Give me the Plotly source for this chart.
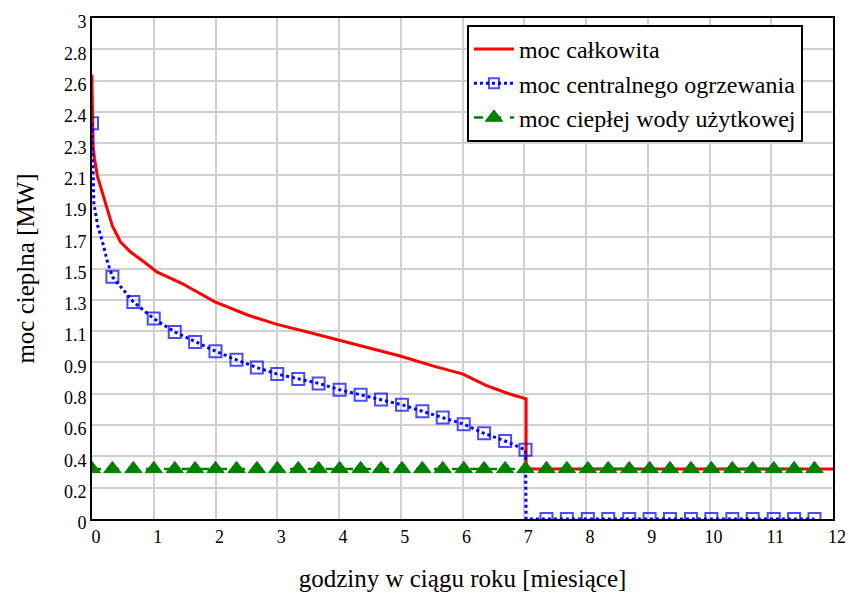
import plotly.graph_objects as go

# Total heat demand (duration curve), months of the year vs MW
total_x = [0.0, 0.0, 0.02, 0.04, 0.09, 0.17, 0.25, 0.33, 0.46, 0.62, 0.84, 1.05,
           1.46, 1.99, 2.53, 3.01, 3.49, 4.0, 4.37, 4.99, 5.52, 6.01, 6.38, 6.75,
           7.03, 7.03, 12.0]
total_y = [2.66, 2.60, 2.22, 2.16, 2.05, 1.95, 1.85, 1.755, 1.66, 1.60, 1.54, 1.48,
           1.41, 1.30, 1.22, 1.164, 1.12, 1.072, 1.036, 0.976, 0.917, 0.868, 0.80, 0.75,
           0.72, 0.30, 0.30]

# Space heating demand; heating_marker flags the sampled points shown with squares
heating_x = [0.0, 0.01, 0.02, 0.03, 0.09, 0.17, 0.25, 0.33, 0.67, 1.0, 1.34, 1.67,
             2.0, 2.34, 2.67, 3.0, 3.34, 3.67, 4.01, 4.35, 4.68, 5.02, 5.35, 5.68,
             6.02, 6.35, 6.69, 7.02, 7.03, 7.36, 7.69, 8.03, 8.36, 8.70, 9.03, 9.36,
             9.70, 10.03, 10.37, 10.70, 11.04, 11.37, 11.70]
heating_y = [2.37, 2.25, 2.05, 1.89, 1.76, 1.66, 1.54, 1.45, 1.30, 1.20, 1.12, 1.06,
             1.005, 0.953, 0.907, 0.868, 0.838, 0.812, 0.774, 0.744, 0.716, 0.684, 0.645, 0.608,
             0.568, 0.513, 0.467, 0.414, 0.0, 0.0, 0.0, 0.0, 0.0, 0.0, 0.0, 0.0,
             0.0, 0.0, 0.0, 0.0, 0.0, 0.0, 0.0]
heating_marker = [1, 0, 0, 0, 0, 0, 0, 1, 1, 1, 1, 1,
                  1, 1, 1, 1, 1, 1, 1, 1, 1, 1, 1, 1,
                  1, 1, 1, 1, 0, 1, 1, 1, 1, 1, 1, 1,
                  1, 1, 1, 1, 1, 1, 1]

# Domestic hot water demand
dhw_x = [0.0, 0.33, 0.67, 1.0, 1.34, 1.67, 2.0, 2.34, 2.67, 3.0, 3.34, 3.67,
         4.01, 4.35, 4.68, 5.02, 5.35, 5.68, 6.02, 6.35, 6.69, 7.02, 7.36, 7.69,
         8.03, 8.36, 8.70, 9.03, 9.36, 9.70, 10.03, 10.37, 10.70, 11.04, 11.37, 11.70]
dhw_y = [0.30, 0.30, 0.30, 0.30, 0.30, 0.30, 0.30, 0.30, 0.30, 0.30, 0.30, 0.30,
         0.30, 0.30, 0.30, 0.30, 0.30, 0.30, 0.30, 0.30, 0.30, 0.30, 0.30, 0.30,
         0.30, 0.30, 0.30, 0.30, 0.30, 0.30, 0.30, 0.30, 0.30, 0.30, 0.30, 0.30]

x_ticks = [0, 1, 2, 3, 4, 5, 6, 7, 8, 9, 10, 11, 12]
y_tick_text = ["0", "0.2", "0.4", "0.6", "0.8", "0.9", "1.1", "1.3", "1.5",
               "1.7", "1.9", "2.1", "2.3", "2.4", "2.6", "2.8", "3"]
y_tick_vals = [3 * i / 16 for i in range(len(y_tick_text))]

SERIF = "Times New Roman, Times, Liberation Serif, DejaVu Serif"

fig = go.Figure()
fig.add_trace(go.Scatter(
    x=total_x, y=total_y, mode="lines", name="moc całkowita",
    line=dict(color="#ff0000", width=3),
))
fig.add_trace(go.Scatter(
    x=heating_x, y=heating_y, mode="lines+markers", name="moc centralnego ogrzewania",
    line=dict(color="#0000ff", width=3, dash="dot"),
    marker=dict(symbol="square-open", color="#0000ff",
                size=[12 if m else 0 for m in heating_marker],
                line=dict(width=2, color="#0000ff")),
))
fig.add_trace(go.Scatter(
    x=dhw_x, y=dhw_y, mode="lines+markers", name="moc ciepłej wody użytkowej",
    line=dict(color="#008000", width=2.5, dash="dash"),
    marker=dict(symbol="triangle-up", color="#008000", size=15,
                line=dict(width=1, color="#008000")),
))

axis_common = dict(
    showgrid=True, gridcolor="#d0d0d0", gridwidth=1.5,
    showline=True, linecolor="black", linewidth=2, mirror=True,
    ticks="", zeroline=False,
    tickfont=dict(family=SERIF, size=18, color="black"),
)

fig.update_layout(
    width=858, height=600,
    margin=dict(l=92, r=18, t=13, b=80),
    paper_bgcolor="white", plot_bgcolor="white",
    font=dict(family=SERIF, color="black"),
    xaxis=dict(range=[0, 12], tickvals=x_ticks, ticklabelshift=4,
               title=dict(text="godziny w ciągu roku [miesiące]", standoff=24,
                          font=dict(family=SERIF, size=25, color="black")),
               **axis_common),
    yaxis=dict(range=[0, 3], tickvals=y_tick_vals, ticktext=y_tick_text,
               ticklabelshift=4,
               title=dict(text="moc cieplna [MW]", standoff=22,
                          font=dict(family=SERIF, size=25, color="black")),
               **axis_common),
    legend=dict(x=0.506, y=0.986, xanchor="left", yanchor="top",
                bgcolor="white", bordercolor="black", borderwidth=2,
                font=dict(family=SERIF, size=24, color="black"),
                itemwidth=40, tracegroupgap=0),
    showlegend=True,
)

fig.write_html("out.html")
